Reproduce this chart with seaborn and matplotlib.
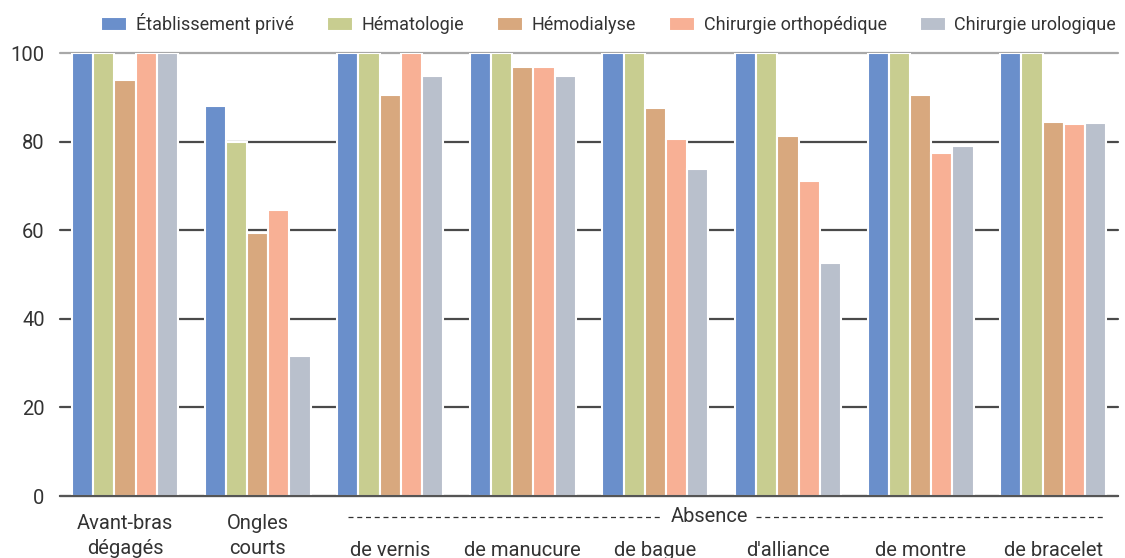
import seaborn as sns
import matplotlib.pyplot as plt
import matplotlib.transforms as mtransforms
import pandas as pd

# categories (x groups)
categories = ['Avant-bras\ndégagés', 'Ongles\ncourts', 'de vernis', 'de manucure',
              'de bague', "d'alliance", 'de montre', 'de bracelet']

# series
seriesNames = ['Établissement privé', 'Hématologie', 'Hémodialyse',
               'Chirurgie orthopédique', 'Chirurgie urologique']
etablissement = [100, 88.0, 100, 100, 100, 100, 100, 100]
hematologie = [100, 80.0, 100, 100, 100, 100, 100, 100]
hemodialyse = [94.0, 59.4, 90.5, 96.8, 87.6, 81.3, 90.5, 84.4]
orthopedique = [100, 64.6, 100, 96.8, 80.6, 71.1, 77.4, 84.0]
urologique = [100, 31.6, 94.8, 94.8, 73.8, 52.6, 79.0, 84.2]

colors = ['#6a8fcb', '#c8cd90', '#d8a87e', '#f8b095', '#b9c0cc']

allSeries = [etablissement, hematologie, hemodialyse, orthopedique, urologique]
rows = []
for name, vals in zip(seriesNames, allSeries):
    for cat, v in zip(categories, vals):
        rows.append({'categorie': cat, 'serie': name, 'valeur': v})
df = pd.DataFrame(rows)

sns.set_style('white')
plt.rcParams['font.family'] = ['Roboto', 'DejaVu Sans']
textColor = '#333333'

fig = plt.figure(figsize=(11.25, 5.58), dpi=100)
ax = fig.add_axes([0.0533, 0.111, 0.9407, 0.794])

sns.barplot(data=df, x='categorie', y='valeur', hue='serie', hue_order=seriesNames,
            order=categories, palette=colors, width=0.8, edgecolor='white',
            linewidth=1.5, saturation=1, ax=ax)

ax.set_ylim(0, 100)
ax.set_xlim(-0.49, 7.49)
ax.set_yticks([0, 20, 40, 60, 80, 100])
ax.yaxis.grid(True, color='#4a4a4a', linewidth=1.6)
ax.set_axisbelow(True)
for s in ['top', 'right', 'left']:
    ax.spines[s].set_visible(False)
ax.spines['bottom'].set_color('#555555')
ax.spines['bottom'].set_linewidth(1.5)
ax.tick_params(axis='both', length=0, labelsize=14.5, colors=textColor)
ax.tick_params(axis='x', pad=13)
ax.tick_params(axis='y', pad=11)
ax.set_xlabel('')
ax.set_ylabel('')
shiftDown = mtransforms.ScaledTranslation(0, -27 / 100, fig.dpi_scale_trans)
for i, lbl in enumerate(ax.get_xticklabels()):
    lbl.set_linespacing(1.38)
    if i >= 2:
        lbl.set_transform(lbl.get_transform() + shiftDown)
gls = ax.get_ygridlines()
for gl in gls:
    gl.set_clip_on(False)
gls[-1].set_color('#a8a8a8')

# "Absence" bracket under groups 3-8
trans = mtransforms.blended_transform_factory(ax.transData, ax.transAxes)
yLine = -0.047
ax.plot([1.68, 4.06], [yLine, yLine], transform=trans, clip_on=False,
        color=textColor, linewidth=0.9, linestyle=(0, (4, 3)))
ax.plot([4.76, 7.38], [yLine, yLine], transform=trans, clip_on=False,
        color=textColor, linewidth=0.9, linestyle=(0, (4, 3)))
ax.text(4.41, yLine, 'Absence', transform=trans, ha='center', va='center',
        fontsize=14.5, color=textColor)

sns.move_legend(ax, 'center', bbox_to_anchor=(0.541, 0.957), bbox_transform=fig.transFigure,
                ncol=5, frameon=False, title=None, fontsize=13, handlelength=1.45,
                handleheight=0.8, columnspacing=1.85, handletextpad=0.45)
for t in ax.get_legend().get_texts():
    t.set_color(textColor)

plt.savefig('out.png', dpi=100)
